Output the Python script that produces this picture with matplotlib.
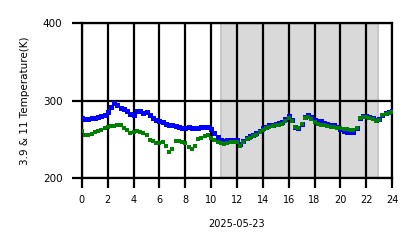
import numpy as np
import matplotlib
matplotlib.use("Agg")
import matplotlib.pyplot as plt

hours = np.arange(0, 24.01, 0.25)

t39 = [278, 276, 276, 277, 278, 279, 280, 282, 285, 292, 297, 294, 291, 289, 286, 283,
       282, 287, 286, 284, 285, 281, 277, 275, 273, 272, 270, 269, 268, 267, 266, 265,
       265, 266, 265, 264, 265, 266, 266, 266, 263, 258, 253, 249, 248, 249, 249, 249,
       249, 244, 248, 252, 254, 256, 258, 261, 264, 266, 268, 269, 270, 271, 272, 276,
       280, 275, 266, 264, 270, 279, 282, 279, 275, 274, 273, 271, 270, 269, 268, 266,
       263, 261, 260, 259, 259, 264, 278, 280, 280, 279, 277, 275, 276, 282, 284, 285, 287]

t11 = [261, 256, 255, 257, 259, 261, 262, 264, 266, 267, 267, 268, 268, 265, 262, 258,
       260, 261, 260, 258, 256, 249, 248, 245, 245, 246, 242, 233, 238, 248, 248, 247,
       245, 240, 238, 242, 250, 252, 254, 256, 252, 249, 247, 245, 244, 245, 246, 246,
       246, 242, 247, 250, 252, 254, 256, 259, 262, 264, 266, 267, 268, 269, 270, 274,
       278, 273, 266, 265, 270, 277, 279, 276, 272, 270, 269, 268, 267, 266, 266, 265,
       264, 263, 263, 262, 262, 265, 278, 279, 279, 278, 276, 274, 275, 281, 283, 284, 285]

shade_span = [10.8, 22.9]
xticks = list(range(0, 25, 2))
yticks = [200, 300, 400]

fig = plt.figure(figsize=(4.18, 2.48), dpi=100)
ax = fig.add_axes([0.196, 0.282, 0.742, 0.625])

ax.axvspan(shade_span[0], shade_span[1], facecolor='#d9d9d9', edgecolor='#c8c8c8', linewidth=1.5, zorder=0)
ax.plot(hours, t39, 's', color='blue', markersize=3.6, markeredgewidth=0, zorder=3)
ax.plot(hours, t11, 's', color='green', markersize=3.3, markeredgewidth=0, zorder=4)

ax.set_xlim(0, 24)
ax.set_ylim(200, 400)
ax.set_xticks(xticks)
ax.set_yticks(yticks)
ax.grid(True, color='black', linewidth=1.6, zorder=2)
ax.set_axisbelow(False)
for s in ax.spines.values():
    s.set_color('black')
    s.set_linewidth(1.6)
ax.tick_params(axis='both', length=7, width=1.6, labelsize=7, color='black')
ax.tick_params(axis='y', pad=7, labelsize=7.5)
ax.tick_params(axis='x', pad=5)
ax.set_xlabel('2025-05-23', fontsize=7, labelpad=10)
ax.set_ylabel('3.9 & 11 Temperature(K)', fontsize=7.5, labelpad=9)

fig.savefig('out.png', dpi=100)
